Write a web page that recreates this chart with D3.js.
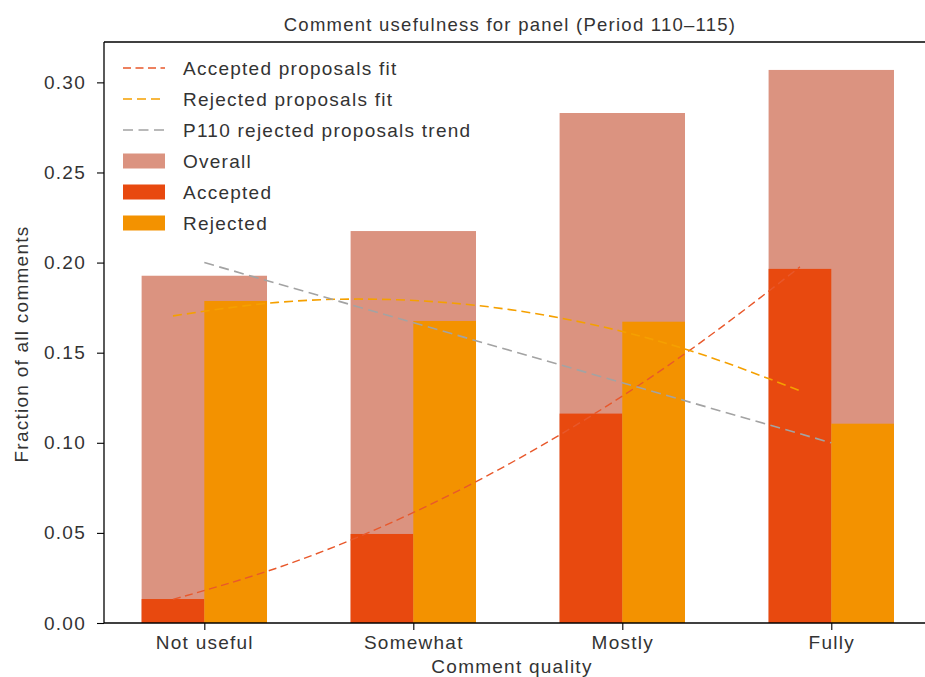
<!DOCTYPE html>
<html>
<head>
<meta charset="utf-8">
<script src="https://cdn.jsdelivr.net/npm/d3@7"></script>
<style>
  html, body { margin: 0; padding: 0; background: #fff; }
  svg { display: block; }
  text { font-family: "Liberation Sans", Arial, Helvetica, sans-serif; fill: #333; letter-spacing: 1.25px; }
</style>
</head>
<body>
<svg id="chart" width="925" height="677"></svg>
<script>
// Category labels along the x axis
const categories = ["Not useful", "Somewhat", "Mostly", "Fully"];

// Fraction of all comments per category
const overallValues  = [0.1927, 0.2175, 0.2830, 0.3069];
const acceptedValues = [0.0133, 0.0494, 0.1162, 0.1965];
const rejectedValues = [0.1787, 0.1676, 0.1672, 0.1106];

// Fitted curves, sampled along the category axis
const fitX           = [-0.15, 0.35, 0.85, 1.35, 1.85, 2.35, 2.85];
const acceptedFit    = [0.0131, 0.0306, 0.0534, 0.0815, 0.1149, 0.1536, 0.1976];
const rejectedFit    = [0.1704, 0.1779, 0.1796, 0.1756, 0.1658, 0.1502, 0.1289];

// P110 rejected proposals trend (straight line)
const trendX      = [0, 3];
const trendValues = [0.200, 0.100];

// Y axis ticks
const yTicks = [0.00, 0.05, 0.10, 0.15, 0.20, 0.25, 0.30];

const colors = {
  overall: "#db9380",
  accepted: "#e8490f",
  rejected: "#f39200",
  acceptedFit: "#e8582b",
  rejectedFit: "#f5a000",
  trend: "#a3a3a3"
};

const svg = d3.select("#chart");
const plot = { left: 104, right: 931.6, top: 42, bottom: 623 };

const x = d3.scaleLinear().domain([-0.48, 3.48]).range([plot.left, plot.right]);
const y = d3.scaleLinear().domain([0, 0.3224]).range([plot.bottom, plot.top]);

const unit = x(1) - x(0);
const idx = d3.range(categories.length);

// Bars: overall (wide), accepted (left half), rejected (right half)
const g = svg.append("g");
g.selectAll("rect.overall").data(idx).join("rect")
  .attr("class", "overall")
  .attr("x", i => x(i - 0.3)).attr("width", 0.6 * unit)
  .attr("y", i => y(overallValues[i])).attr("height", i => y(0) - y(overallValues[i]))
  .attr("fill", colors.overall);
g.selectAll("rect.accepted").data(idx).join("rect")
  .attr("class", "accepted")
  .attr("x", i => x(i - 0.3)).attr("width", 0.3 * unit)
  .attr("y", i => y(acceptedValues[i])).attr("height", i => y(0) - y(acceptedValues[i]))
  .attr("fill", colors.accepted);
g.selectAll("rect.rejected").data(idx).join("rect")
  .attr("class", "rejected")
  .attr("x", i => x(i)).attr("width", 0.3 * unit)
  .attr("y", i => y(rejectedValues[i])).attr("height", i => y(0) - y(rejectedValues[i]))
  .attr("fill", colors.rejected);

// Fit and trend lines
const curve = d3.line().x(d => x(d[0])).y(d => y(d[1])).curve(d3.curveNatural);
const straight = d3.line().x(d => x(d[0])).y(d => y(d[1]));

g.append("path")
  .attr("d", curve(fitX.map((v, i) => [v, acceptedFit[i]])))
  .attr("fill", "none").attr("stroke", colors.acceptedFit)
  .attr("stroke-width", 1.4).attr("stroke-dasharray", "8,4.5");
g.append("path")
  .attr("d", curve(fitX.map((v, i) => [v, rejectedFit[i]])))
  .attr("fill", "none").attr("stroke", colors.rejectedFit)
  .attr("stroke-width", 1.6).attr("stroke-dasharray", "9,5");
g.append("path")
  .attr("d", straight(trendX.map((v, i) => [v, trendValues[i]])))
  .attr("fill", "none").attr("stroke", colors.trend)
  .attr("stroke-width", 1.6).attr("stroke-dasharray", "10,5.5");

// Axes
const yAxis = d3.axisLeft(y).tickValues(yTicks).tickFormat(d3.format(".2f"))
  .tickSize(7).tickPadding(10);
const yg = svg.append("g").attr("transform", `translate(${plot.left},0)`).call(yAxis);
const xAxis = d3.axisBottom(x).tickValues(idx).tickFormat(i => categories[i])
  .tickSize(7).tickPadding(6);
const xg = svg.append("g").attr("transform", `translate(0,${plot.bottom})`).call(xAxis);

[yg, xg].forEach(a => {
  a.select(".domain").remove();
  a.selectAll(".tick line").attr("stroke", "#000").attr("stroke-width", 1.1);
  a.selectAll(".tick text").style("font-size", "19px").attr("fill", "#333");
});
yg.selectAll(".tick text").attr("dx", "-1px");

// Spines: left, bottom, top (right edge falls outside the canvas)
const spine = { stroke: "#000", "stroke-width": 1.3 };
[[plot.left, plot.top, plot.left, plot.bottom],
 [plot.left, plot.bottom, plot.right, plot.bottom],
 [plot.left, plot.top, plot.right, plot.top]].forEach(([x1, y1, x2, y2]) => {
  svg.append("line").attr("x1", x1).attr("y1", y1).attr("x2", x2).attr("y2", y2)
    .attr("stroke", spine.stroke).attr("stroke-width", spine["stroke-width"]);
});

// Title and axis labels
svg.append("text").attr("x", 510).attr("y", 31).attr("text-anchor", "middle")
  .style("font-size", "18.5px").text("Comment usefulness for panel (Period 110\u2013115)");
svg.append("text").attr("x", 512).attr("y", 673).attr("text-anchor", "middle")
  .style("font-size", "19px").text("Comment quality");
svg.append("text").attr("transform", "translate(28,344) rotate(-90)")
  .attr("text-anchor", "middle").style("font-size", "19px")
  .text("Fraction of all comments");

// Legend
const legendItems = [
  { label: "Accepted proposals fit", type: "line", color: colors.acceptedFit, dash: "8,4.5", w: 1.4 },
  { label: "Rejected proposals fit", type: "line", color: colors.rejectedFit, dash: "9,5", w: 1.6 },
  { label: "P110 rejected proposals trend", type: "line", color: colors.trend, dash: "10,5.5", w: 1.6 },
  { label: "Overall", type: "patch", color: colors.overall },
  { label: "Accepted", type: "patch", color: colors.accepted },
  { label: "Rejected", type: "patch", color: colors.rejected }
];
const lg = svg.append("g");
legendItems.forEach((it, k) => {
  const cy = 68 + k * 31;
  if (it.type === "line") {
    lg.append("line").attr("x1", 123).attr("x2", 165).attr("y1", cy).attr("y2", cy)
      .attr("stroke", it.color).attr("stroke-width", it.w).attr("stroke-dasharray", it.dash);
  } else {
    lg.append("rect").attr("x", 123).attr("y", cy - 7.5).attr("width", 42).attr("height", 15)
      .attr("fill", it.color);
  }
  lg.append("text").attr("x", 183).attr("y", cy + 6.8).style("font-size", "19px").text(it.label);
});
</script>
</body>
</html>
